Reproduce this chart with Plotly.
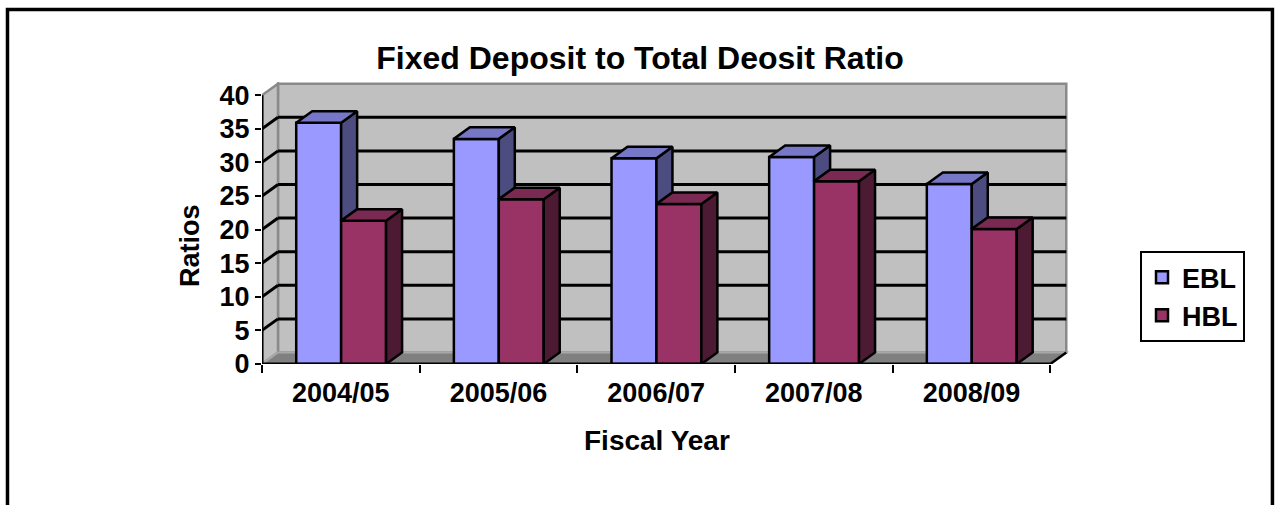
import plotly.graph_objects as go

# Fixed deposit to total deposit ratios by fiscal year
years = ["2004/05", "2005/06", "2006/07", "2007/08", "2008/09"]
ebl = [35.9, 33.5, 30.6, 30.8, 26.8]
hbl = [21.3, 24.5, 23.8, 27.2, 20.1]
y_ticks = [0, 5, 10, 15, 20, 25, 30, 35, 40]

FONT = "Liberation Sans, Arial, sans-serif"
EBL_FRONT, EBL_TOP, EBL_SIDE = "#9999FF", "#7777C8", "#4C4C80"
HBL_FRONT, HBL_TOP, HBL_SIDE = "#993366", "#7A2952", "#4D1A33"
WALL, FLOOR, EDGE = "#C0C0C0", "#808080", "#8A8A8A"

# pseudo-3D depth of the chart box, in data units
DX, DY = 0.1015, 1.714
BAR_W, BAR_OFF = 0.285, 0.002
YMAX = y_ticks[-1]
n = len(years)
xs = list(range(n))
x_lo, x_hi = -0.5, n - 0.5

fig = go.Figure()

# front faces of the columns
fig.add_trace(go.Bar(name="EBL", x=xs, y=ebl, width=BAR_W, offset=BAR_OFF - BAR_W,
                     marker=dict(color=EBL_FRONT, line=dict(color="black", width=2.5)),
                     cliponaxis=False, legendgroup="a"))
fig.add_trace(go.Bar(name="HBL", x=xs, y=hbl, width=BAR_W, offset=BAR_OFF,
                     marker=dict(color=HBL_FRONT, line=dict(color="black", width=2.5)),
                     cliponaxis=False, legendgroup="b"))


def poly(pts_list):
    px, py = [], []
    for pts in pts_list:
        for (a, b) in pts + [pts[0]]:
            px.append(a)
            py.append(b)
        px.append(None)
        py.append(None)
    return px, py


e_tops, e_sides, h_tops, h_sides = [], [], [], []
for i, (h1, h2) in enumerate(zip(ebl, hbl)):
    l1 = i + BAR_OFF - BAR_W
    r1 = i + BAR_OFF
    l2, r2 = r1, r1 + BAR_W
    e_tops.append([(l1, h1), (r1, h1), (r1 + DX, h1 + DY), (l1 + DX, h1 + DY)])
    if h1 > h2:
        e_sides.append([(r1, h2), (r1, h1), (r1 + DX, h1 + DY), (r1 + DX, h2 + DY)])
    h_tops.append([(l2, h2), (r2, h2), (r2 + DX, h2 + DY), (l2 + DX, h2 + DY)])
    h_sides.append([(r2, 0), (r2, h2), (r2 + DX, h2 + DY), (r2 + DX, DY)])

for pts, col in [(e_sides, EBL_SIDE), (e_tops, EBL_TOP), (h_sides, HBL_SIDE), (h_tops, HBL_TOP)]:
    px, py = poly(pts)
    fig.add_trace(go.Scatter(x=px, y=py, mode="lines", fill="toself", fillcolor=col,
                             line=dict(color="black", width=2.5), showlegend=False,
                             hoverinfo="skip", cliponaxis=False))

# front axis lines
fig.add_trace(go.Scatter(x=[x_lo, x_lo, None, x_lo, x_hi], y=[YMAX, 0, None, 0, 0],
                         mode="lines", line=dict(color="black", width=3),
                         showlegend=False, hoverinfo="skip", cliponaxis=False))

shapes = []
# back wall
shapes.append(dict(type="rect", xref="x", yref="y", x0=x_lo + DX, x1=x_hi + DX, y0=DY, y1=YMAX + DY,
                   fillcolor=WALL, line=dict(color=EDGE, width=2.5), layer="below"))
# left side wall
shapes.append(dict(type="path", xref="x", yref="y",
                   path=f"M{x_lo},0 L{x_lo},{YMAX} L{x_lo + DX},{YMAX + DY} L{x_lo + DX},{DY} Z",
                   fillcolor=WALL, line=dict(color=EDGE, width=2.5), layer="below"))
# floor
shapes.append(dict(type="path", xref="x", yref="y",
                   path=f"M{x_lo},0 L{x_hi},0 L{x_hi + DX},{DY} L{x_lo + DX},{DY} Z",
                   fillcolor=FLOOR, line=dict(color="#A8A8A8", width=2), layer="below"))
shapes.append(dict(type="line", xref="x", yref="y", x0=x_hi, y0=0, x1=x_hi + DX, y1=DY,
                   line=dict(color="black", width=2.5), layer="below"))
# gridlines on the back wall and the side wall
for v in y_ticks[1:-1]:
    shapes.append(dict(type="line", xref="x", yref="y", x0=x_lo + DX, x1=x_hi + DX, y0=v + DY, y1=v + DY,
                       line=dict(color="black", width=3), layer="below"))
    shapes.append(dict(type="line", xref="x", yref="y", x0=x_lo, x1=x_lo + DX, y0=v, y1=v + DY,
                       line=dict(color="black", width=3), layer="below"))

# outer frame of the chart
shapes.append(dict(type="rect", xref="paper", yref="paper", x0=-0.3146, x1=1.249, y0=-0.6, y1=1.257,
                   line=dict(color="black", width=3.5), fillcolor="rgba(0,0,0,0)", layer="above"))

annotations = [
    dict(text="<b>Ratios</b>", xref="paper", yref="paper", x=-0.089, y=0.422, textangle=-90,
         xanchor="center", yanchor="middle",
         showarrow=False, font=dict(family=FONT, size=27, color="black")),
    dict(text="<b>Fiscal Year</b>", xref="paper", yref="paper", x=0.488, y=-0.273,
         xanchor="center", yanchor="middle",
         showarrow=False, font=dict(family=FONT, size=28, color="black")),
]

fig.update_layout(
    width=1280, height=505,
    margin=dict(l=262, r=209, t=82, b=141),
    paper_bgcolor="white", plot_bgcolor="white",
    title=dict(text="<b>Fixed Deposit to Total Deosit Ratio</b>", x=0.5, xref="container",
               y=1 - 58 / 505, yref="container", yanchor="middle", xanchor="center",
               font=dict(family=FONT, size=32, color="black")),
    barmode="overlay",
    showlegend=True,
    legend=dict(x=1.0853, y=0.40, xanchor="left", yanchor="top", bordercolor="black", borderwidth=2,
                bgcolor="white", traceorder="grouped", tracegroupgap=0,
                font=dict(family=FONT, size=27, color="black", weight="bold")),
    shapes=shapes,
    annotations=annotations,
    xaxis=dict(range=[x_lo, x_hi + DX + 0.03], tickmode="array", tickvals=xs, ticktext=years,
               ticks="", showgrid=False, zeroline=False, showline=False, ticklabelstandoff=10,
               tickfont=dict(family=FONT, size=27, color="black", weight="bold"),
               minor=dict(tickmode="array", tickvals=[x_lo + k for k in range(n + 1)], ticks="outside",
                          ticklen=8, tickwidth=2, tickcolor="black", showgrid=False)),
    yaxis=dict(range=[0, YMAX + DY + 0.25], tickmode="array", tickvals=y_ticks, ticks="outside",
               ticklen=6, tickwidth=2, tickcolor="black", showgrid=False, zeroline=False,
               showline=False, tickfont=dict(family=FONT, size=27, color="black", weight="bold")),
)

fig.write_html("out.html")
